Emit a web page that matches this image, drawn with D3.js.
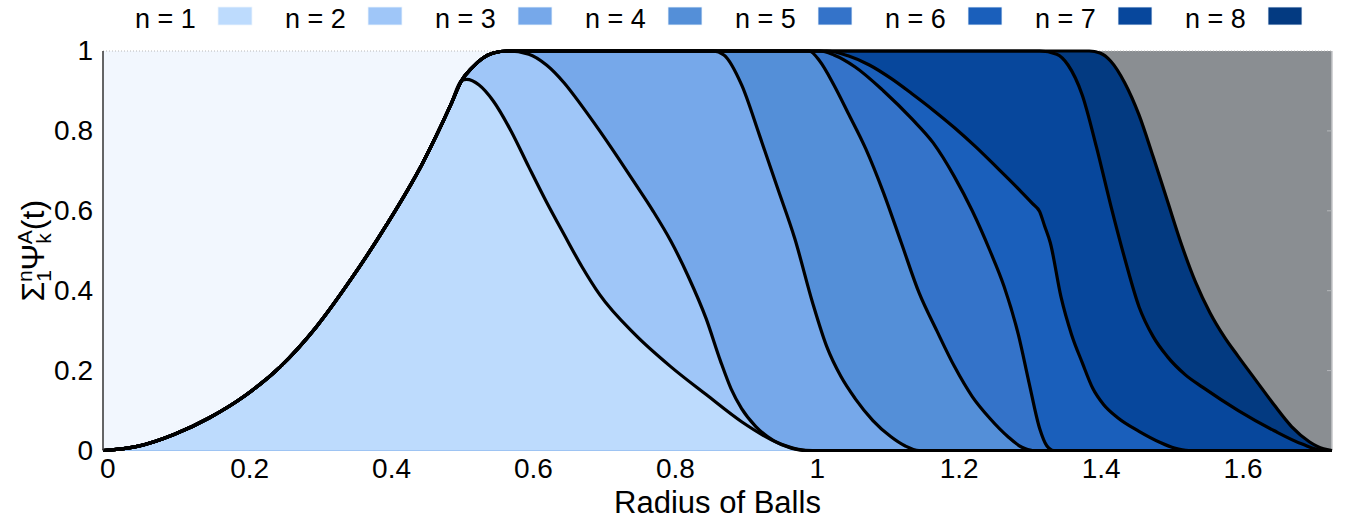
<!DOCTYPE html>
<html>
<head>
<meta charset="utf-8">
<script src="https://cdn.jsdelivr.net/npm/d3@7"></script>
<style>
  body { margin: 0; background: #fff; }
  text { font-family: "Liberation Sans", Arial, sans-serif; fill: #000; }
</style>
</head>
<body>
<div id="chart"></div>
<script>
//////////////////////////////////////////////////////////////
//////////////////////// Data ////////////////////////////////
//////////////////////////////////////////////////////////////

var legendNames = ["n = 1", "n = 2", "n = 3", "n = 4", "n = 5", "n = 6", "n = 7", "n = 8"];
var colors = ["#bddbfd", "#9fc6f8", "#76a8ea", "#548fd8", "#3473c9", "#1a5fbb", "#07479c", "#033a81"];
var xTicks = [0, 0.2, 0.4, 0.6, 0.8, 1, 1.2, 1.4, 1.6];
var yTicks = [0, 0.2, 0.4, 0.6, 0.8, 1];
var xMax = 1.732;

// shared rising part, [radius, cumulative value]
var rise = [[0,0],[0.05,0.011],[0.1,0.04],[0.15,0.082],[0.2,0.137],[0.25,0.21],[0.3,0.308],
            [0.35,0.43],[0.4,0.566],[0.45,0.718],[0.49,0.865],[0.505,0.925]];
// shared top of n >= 2
var cap = [[0.52,0.958],[0.535,0.982],[0.55,0.995],[0.57,1]];

var tail1 = [[0.5125,0.929],[0.53,0.915],[0.55,0.875],[0.575,0.8],[0.6,0.71],[0.625,0.622],[0.65,0.54],
             [0.675,0.46],[0.7,0.39],[0.75,0.29],[0.8,0.21],[0.85,0.14],[0.9,0.072],[0.95,0.02],
             [0.98,0.003],[1.0,0]];
var tail2 = [[0.6,0.992],[0.625,0.965],[0.65,0.92],[0.675,0.862],[0.7,0.8],[0.725,0.735],[0.75,0.668],
             [0.775,0.6],[0.8,0.525],[0.825,0.435],[0.85,0.33],[0.87,0.225],[0.885,0.155],[0.9,0.105],
             [0.92,0.06],[0.945,0.025],[0.97,0.006],[0.99,0]];
var tail3 = [[0.86,1],[0.875,0.99],[0.9,0.915],[0.925,0.79],[0.95,0.66],[0.975,0.53],[1.0,0.37],
             [1.02,0.26],[1.04,0.185],[1.06,0.13],[1.085,0.075],[1.11,0.035],[1.13,0.012],[1.15,0]];
var tail4 = [[0.995,1],[1.01,0.975],[1.03,0.915],[1.05,0.845],[1.075,0.755],[1.1,0.645],[1.125,0.52],
             [1.15,0.395],[1.175,0.3],[1.2,0.21],[1.225,0.135],[1.25,0.08],[1.275,0.035],[1.295,0.008],[1.31,0]];
var tail5 = [[1.01,1],[1.03,0.99],[1.06,0.96],[1.1,0.9],[1.14,0.83],[1.17,0.77],[1.2,0.685],[1.225,0.6],
             [1.25,0.5],[1.27,0.41],[1.29,0.29],[1.305,0.17],[1.32,0.055],[1.33,0.012],[1.34,0]];
var tail6 = [[1.02,1],[1.05,0.988],[1.08,0.965],[1.11,0.932],[1.14,0.893],[1.17,0.852],[1.2,0.808],
             [1.23,0.76],[1.26,0.708],[1.29,0.655],[1.31,0.618],[1.32,0.598],[1.327,0.562],[1.335,0.52],
             [1.35,0.385],[1.365,0.29],[1.38,0.22],[1.395,0.155],[1.41,0.115],[1.43,0.082],[1.46,0.048],
             [1.49,0.02],[1.51,0.006],[1.53,0]];
var tail7 = [[1.32,1],[1.344,0.992],[1.36,0.965],[1.38,0.89],[1.4,0.76],[1.42,0.615],[1.44,0.48],
             [1.46,0.36],[1.48,0.285],[1.5,0.235],[1.525,0.19],[1.55,0.158],[1.6,0.1],[1.65,0.05],
             [1.69,0.016],[1.72,0]];
var tail8 = [[1.39,1],[1.405,0.995],[1.42,0.975],[1.44,0.92],[1.46,0.84],[1.48,0.735],[1.5,0.625],
             [1.52,0.515],[1.54,0.42],[1.56,0.345],[1.58,0.285],[1.6,0.235],[1.625,0.175],[1.65,0.115],
             [1.675,0.06],[1.7,0.022],[1.72,0.004],[1.732,0]];

var tails = [tail1, tail2, tail3, tail4, tail5, tail6, tail7, tail8];

//build the cumulative curves
var curves = tails.map(function(t, i) {
  var pts = i === 0 ? rise.concat(t) : rise.concat(cap, t);
  if (pts[pts.length-1][0] < xMax) pts.push([xMax, 0]);
  return pts;
});

//////////////////////////////////////////////////////////////
//////////////////////// Set-Up //////////////////////////////
//////////////////////////////////////////////////////////////

var width = 1350, height = 525;
var plot = {left: 103, right: 1332, top: 51, bottom: 450.5};

var x = d3.scaleLinear().domain([0, xMax]).range([plot.left, plot.right]);
var y = d3.scaleLinear().domain([0, 1]).range([plot.bottom, plot.top]);

var svg = d3.select("#chart").append("svg")
  .attr("width", width)
  .attr("height", height);

//background: light on the left, gray on the right
svg.append("rect")
  .attr("x", x(0)).attr("y", y(1))
  .attr("width", x(1) - x(0)).attr("height", y(0) - y(1))
  .style("fill", "#f2f7fe");
svg.append("rect")
  .attr("x", x(1)).attr("y", y(1))
  .attr("width", x(xMax) - x(1)).attr("height", y(0) - y(1))
  .style("fill", "#8a8e92");

//top dotted frame and right border
svg.append("line")
  .attr("x1", x(0)).attr("x2", x(xMax)).attr("y1", y(1)).attr("y2", y(1))
  .style("stroke", "#b8b8b8").style("stroke-dasharray", "1,2");
svg.append("line")
  .attr("x1", x(xMax)).attr("x2", x(xMax)).attr("y1", y(1)).attr("y2", y(0))
  .style("stroke", "#c4c6c8").style("stroke-width", 1.5);
svg.selectAll("line.rtick")
  .data(yTicks.slice(1, -1))
  .enter().append("line")
  .attr("class", "rtick")
  .attr("x1", x(xMax) - 5).attr("x2", x(xMax))
  .attr("y1", function(d) { return y(d); }).attr("y2", function(d) { return y(d); })
  .style("stroke", "#b4b7ba");

//////////////////////////////////////////////////////////////
//////////////////////// Areas ///////////////////////////////
//////////////////////////////////////////////////////////////

var area = d3.area()
  .x(function(d) { return x(d[0]); })
  .y0(y(0))
  .y1(function(d) { return y(d[1]); })
  .curve(d3.curveMonotoneX);

var line = d3.line()
  .x(function(d) { return x(d[0]); })
  .y(function(d) { return y(d[1]); })
  .curve(d3.curveMonotoneX);

//paint from the outermost sum inwards
var order = d3.range(curves.length).reverse();

svg.selectAll("path.band")
  .data(order)
  .enter().append("path")
  .attr("class", "band")
  .attr("d", function(i) { return area(curves[i]); })
  .style("fill", function(i) { return colors[i]; });

svg.selectAll("path.sum")
  .data(order)
  .enter().append("path")
  .attr("class", "sum")
  .attr("d", function(i) { return line(curves[i]); })
  .style("fill", "none")
  .style("stroke", "#000")
  .style("stroke-width", 3.2)
  .style("stroke-linejoin", "round");

//left axis line
svg.append("line")
  .attr("x1", x(0)).attr("x2", x(0)).attr("y1", y(1)).attr("y2", y(0))
  .style("stroke", "#333").style("stroke-width", 1.5);

//////////////////////////////////////////////////////////////
//////////////////////// Axes ////////////////////////////////
//////////////////////////////////////////////////////////////

var yAxis = svg.append("g")
  .attr("transform", "translate(" + x(0) + ",0)")
  .call(d3.axisLeft(y).tickValues(yTicks).tickSize(0).tickPadding(10).tickFormat(d3.format("~g")));

var xAxis = svg.append("g")
  .attr("transform", "translate(0," + y(0) + ")")
  .call(d3.axisBottom(x).tickValues(xTicks).tickSize(0).tickPadding(8).tickFormat(d3.format("~g")));

[xAxis, yAxis].forEach(function(ax) {
  ax.select(".domain").remove();
  ax.selectAll("text")
    .style("font-size", "28px")
    .style("font-family", "'Liberation Sans', Arial, sans-serif")
    .style("fill", "#000");
});
xAxis.selectAll("text").attr("dx", "0.15em");

svg.append("text")
  .attr("x", (plot.left + plot.right) / 2)
  .attr("y", 513)
  .style("text-anchor", "middle")
  .style("font-size", "31px")
  .text("Radius of Balls");

//y axis label with stacked sub/superscripts
var ylab = svg.append("text")
  .attr("transform", "translate(44," + ((plot.top + plot.bottom) / 2) + ") rotate(-90)")
  .style("text-anchor", "middle")
  .style("font-size", "32px");
ylab.append("tspan").text("Σ");
ylab.append("tspan").attr("dy", 7).style("font-size", "21px").text("1");
ylab.append("tspan").attr("dx", -12).attr("dy", -19).style("font-size", "21px").text("n");
ylab.append("tspan").attr("dy", 12).text("Ψ");
ylab.append("tspan").attr("dy", 7).style("font-size", "21px").text("k");
ylab.append("tspan").attr("dx", -11).attr("dy", -19).style("font-size", "21px").text("A");
ylab.append("tspan").attr("dy", 12).text("(t)");

//////////////////////////////////////////////////////////////
//////////////////////// Legend //////////////////////////////
//////////////////////////////////////////////////////////////

var legend = svg.selectAll("g.legend")
  .data(legendNames)
  .enter().append("g")
  .attr("class", "legend")
  .attr("transform", function(d, i) { return "translate(" + (135 + 150 * i) + ",0)"; });

legend.append("text")
  .attr("x", 0).attr("y", 28)
  .style("font-size", "27px")
  .text(function(d) { return d; });

legend.append("rect")
  .attr("x", 83).attr("y", 7)
  .attr("width", 34).attr("height", 18)
  .style("fill", function(d, i) { return colors[i]; })
  .style("stroke", "#eef4fc").style("stroke-width", 0.8);
</script>
</body>
</html>
